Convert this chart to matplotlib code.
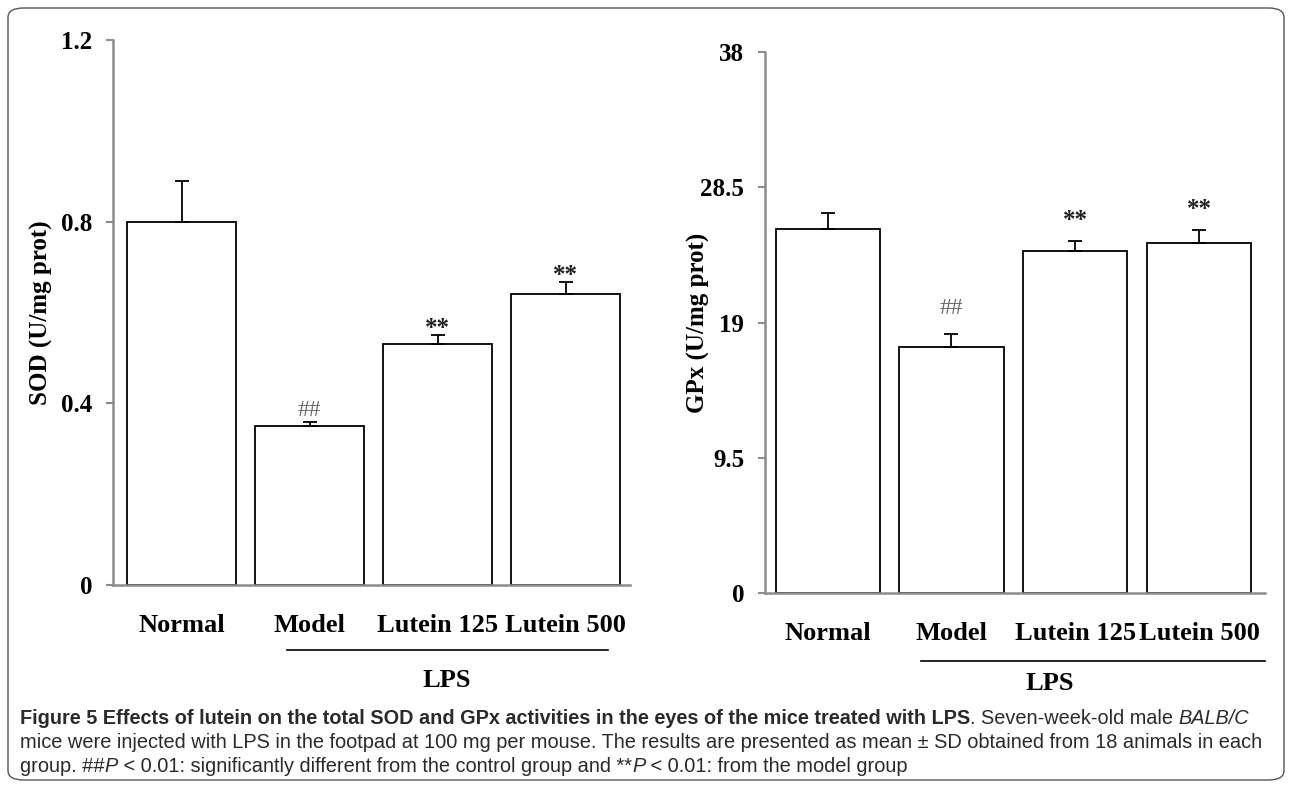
import numpy as np
import matplotlib
matplotlib.use("Agg")
import matplotlib.pyplot as plt
from matplotlib.patches import FancyBboxPatch

# group labels shared by both panels
groups = ["Normal", "Model", "Lutein 125", "Lutein 500"]

# SOD panel (U/mg prot)
sod_mean = [0.80, 0.35, 0.53, 0.64]
sod_sd = [0.09, 0.01, 0.02, 0.027]
sod_marks = ["", "##", "**", "**"]
sod_ticks = [0, 0.4, 0.8, 1.2]
sod_ticklabels = ["0", "0.4", "0.8", "1.2"]

# GPx panel (U/mg prot)
gpx_mean = [25.6, 17.3, 24.0, 24.6]
gpx_sd = [1.1, 0.9, 0.7, 0.9]
gpx_marks = ["", "##", "**", "**"]
gpx_ticks = [0, 9.5, 19, 28.5, 38]
gpx_ticklabels = ["0", "9.5", "19", "28.5", "38"]

serif = ["Liberation Serif", "DejaVu Serif"]
spine_col = "#8c8c8c"

fig = plt.figure(figsize=(12.92, 7.88), dpi=100)

# rounded frame round the whole figure
frame = FancyBboxPatch((8 / 1292, 8 / 788), 1276 / 1292, 772 / 788,
                       boxstyle="round,pad=0,rounding_size=0.012",
                       transform=fig.transFigure, fill=False,
                       edgecolor="#555555", linewidth=1.0)
fig.patches.append(frame)


def panel(rect, means, sds, marks, ticks, ticklabels, ylabel, label_x, xlim,
          width, offsets, lps_line, lps_x, lps_y):
    ax = fig.add_axes(rect)
    x = np.arange(len(groups))
    sds = np.array(sds)
    ax.bar(x, means, width=width, color="white", edgecolor="black",
           linewidth=1.3, zorder=2)
    ax.errorbar(x, means, yerr=[np.zeros_like(sds), sds], fmt="none",
                ecolor="black", elinewidth=1.3, capsize=5, capthick=1.3,
                zorder=3)
    for xi, m, s, t in zip(x, means, sds, marks):
        if t:
            col = "#666666" if t == "##" else "#222222"
            ax.annotate(t, (xi, m + s), xytext=(0, offsets[t]),
                        textcoords="offset points", ha="center", va="baseline",
                        fontsize=17 if t == "##" else 18,
                        fontweight="bold" if t == "**" else "normal",
                        family=serif, color=col)
    ax.set_xlim(*xlim)
    ax.set_ylim(ticks[0], ticks[-1])
    ax.set_yticks(ticks)
    ax.set_yticklabels(ticklabels, fontsize=18, fontweight="bold", family=serif)
    ax.set_xticks(x)
    ax.set_xticklabels(groups, fontsize=19, fontweight="bold", family=serif)
    ax.tick_params(axis="x", length=0, pad=21)
    ax.tick_params(axis="y", length=5, color=spine_col, width=1.5, pad=10)
    ax.set_ylabel(ylabel, fontsize=18, fontweight="bold", family=serif)
    ax.yaxis.set_label_coords(label_x, 0.5)
    for side in ["top", "right"]:
        ax.spines[side].set_visible(False)
    for side in ["left", "bottom"]:
        ax.spines[side].set_color(spine_col)
        ax.spines[side].set_linewidth(1.8)
    # LPS bracket under the treated groups
    ax.plot(lps_line[:2], [lps_line[2]] * 2, transform=ax.get_xaxis_transform(),
            color="black", linewidth=1.2, clip_on=False)
    ax.text(lps_x, lps_y, "LPS", transform=ax.get_xaxis_transform(),
            ha="center", va="center", fontsize=19, fontweight="bold",
            family=serif)
    return ax


panel([113 / 1292, 1 - 585 / 788, 517 / 1292, 545 / 788],
      sod_mean, sod_sd, sod_marks, sod_ticks, sod_ticklabels,
      "SOD (U/mg prot)", -0.116, (-0.535, 3.50), 0.85, {"##": 4, "**": 0},
      [0.82, 3.33, -0.12], 2.07, -0.175)

panel([765 / 1292, 1 - 593 / 788, 500 / 1292, 541 / 788],
      gpx_mean, gpx_sd, gpx_marks, gpx_ticks, gpx_ticklabels,
      "GPx (U/mg prot)", -0.11, (-0.505, 3.53), 0.84, {"##": 14, "**": 10},
      [0.75, 3.53, -0.125], 1.79, -0.167)


# caption, written as runs of text laid one after another
def caption_line(y, runs, size=14.4):
    fig.canvas.draw()
    r = fig.canvas.get_renderer()
    x = 20 / 1292
    for s, weight, style in runs:
        t = fig.text(x, 1 - y / 788, s, fontsize=size, fontweight=weight,
                     style=style, family=["Liberation Sans", "DejaVu Sans"],
                     va="center", color="#2a2a2a")
        bb = t.get_window_extent(renderer=r)
        x = bb.x1 / fig.bbox.width


caption_line(719, [
    ("Figure 5 Effects of lutein on the total SOD and GPx activities in the eyes "
     "of the mice treated with LPS", "bold", "normal"),
    (". Seven-week-old male ", "normal", "normal"),
    ("BALB/C", "normal", "italic"),
], size=14.3)
caption_line(743, [
    ("mice were injected with LPS in the footpad at 100 mg per mouse. The results "
     "are presented as mean \u00b1 SD obtained from 18 animals in each",
     "normal", "normal"),
])
caption_line(767, [
    ("group. ##", "normal", "normal"),
    ("P", "normal", "italic"),
    (" < 0.01: significantly different from the control group and **",
     "normal", "normal"),
    ("P", "normal", "italic"),
    (" < 0.01: from the model group", "normal", "normal"),
])

fig.savefig("out.png", dpi=100)
